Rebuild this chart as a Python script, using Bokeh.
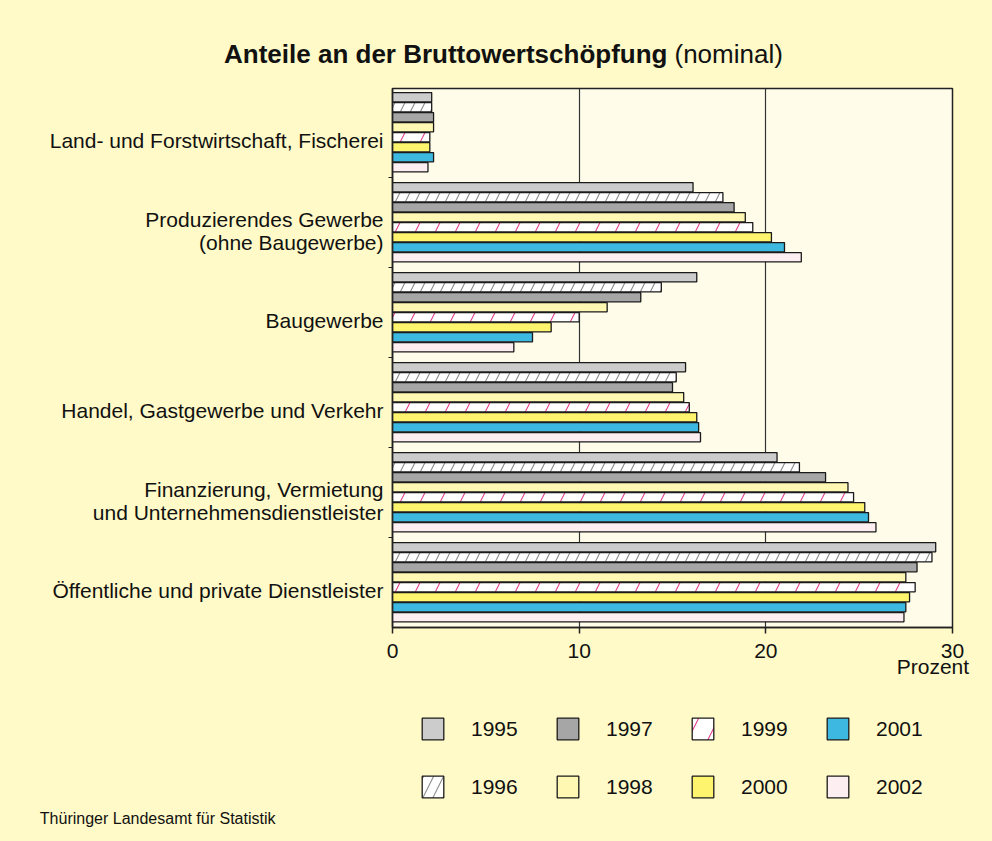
from bokeh.plotting import figure
from bokeh.layouts import column
from bokeh.models import Range1d, FixedTicker, Label, Legend, LegendItem, LinearAxis
from bokeh.embed import file_html
from bokeh.resources import INLINE

# ---------------- data ----------------
categories = [
    "Land- und Forstwirtschaft, Fischerei",
    "Produzierendes Gewerbe\n(ohne Baugewerbe)",
    "Baugewerbe",
    "Handel, Gastgewerbe und Verkehr",
    "Finanzierung, Vermietung\nund Unternehmensdienstleister",
    "Öffentliche und private Dienstleister",
]
years = ["1995", "1996", "1997", "1998", "1999", "2000", "2001", "2002"]

v1995 = [2.1, 16.1, 16.3, 15.7, 20.6, 29.1]
v1996 = [2.1, 17.7, 14.4, 15.2, 21.8, 28.9]
v1997 = [2.2, 18.3, 13.3, 15.0, 23.2, 28.1]
v1998 = [2.2, 18.9, 11.5, 15.6, 24.4, 27.5]
v1999 = [2.0, 19.3, 10.0, 15.9, 24.7, 28.0]
v2000 = [2.0, 20.3, 8.5, 16.3, 25.3, 27.7]
v2001 = [2.2, 21.0, 7.5, 16.4, 25.5, 27.5]
v2002 = [1.9, 21.9, 6.5, 16.5, 25.9, 27.4]
series = [v1995, v1996, v1997, v1998, v1999, v2000, v2001, v2002]

x_ticks = [0, 10, 20, 30]

title_bold = "Anteile an der Bruttowertschöpfung"
title_normal = "(nominal)"
x_unit = "Prozent"
source_text = "Thüringer Landesamt für Statistik"

# ---------------- styles ----------------
FONT = "Liberation Sans"
YELLOW = "#FFFAC8"
PLOT_BG = "#FFFDEA"
INK = "#111111"
fills = ["#CCCCCC", "#FFFFFF", "#A6A6A6", "#FFF8B2", "#FFFFFF", "#FFF46E", "#3DB8E0", "#FDEEF1"]
hatches = [" ", "/", " ", " ", "/", " ", " ", " "]
hatch_colors = ["#888888", "#8C8C8C", "#888888", "#888888", "#E2408C", "#888888", "#888888", "#888888"]
hatch_scales = [20, 20, 20, 20, 40, 20, 20, 20]


def bar_style(k):
    return dict(fill_color=fills[k], line_color="#1A1A1A", line_width=1.3,
                hatch_pattern=hatches[k], hatch_color=hatch_colors[k],
                hatch_scale=hatch_scales[k], hatch_weight=1.1)


def strip_fig(h):
    """Figure used only to carry texts / legend above and below the chart."""
    f = figure(width=992, height=h, x_range=Range1d(0, 1), y_range=Range1d(0, h),
               x_axis_type=None, output_backend="svg",
               toolbar_location=None, min_border=0,
               background_fill_color=YELLOW, border_fill_color=YELLOW,
               outline_line_color=None)
    f.grid.visible = False
    ax = f.yaxis[0]
    ax.axis_line_color = None
    ax.major_tick_line_color = None
    ax.minor_tick_line_color = None
    ax.major_tick_out = 0
    ax.major_tick_in = 0
    ax.major_label_text_font = FONT
    ax.major_label_text_color = INK
    return f


# ---------------- title strip ----------------
title_fig = strip_fig(80)
title_fig.yaxis.ticker = FixedTicker(ticks=[27])
title_fig.yaxis.major_label_overrides = {27: title_bold}
title_fig.yaxis.major_label_text_font_style = "bold"
title_fig.yaxis.major_label_text_font_size = "26px"
title_fig.yaxis.major_label_standoff = -275
title_fig.add_layout(Label(x=282, y=27, x_units="screen", y_units="screen",
                           text=title_normal, text_font=FONT, text_font_size="26px",
                           text_align="left", text_baseline="alphabetic", text_color=INK))

# ---------------- main chart ----------------
n_bars = len(years)
group_step = n_bars + 1
top_pad = 0.37

p = figure(
    width=992, height=620,
    x_range=Range1d(0, 30), y_range=Range1d(53.9, 0),
    output_backend="svg", toolbar_location=None,
    min_border_left=392, min_border_right=40, min_border_top=8, min_border_bottom=73,
    background_fill_color=PLOT_BG, border_fill_color=YELLOW,
    outline_line_color="#222222", outline_line_width=1.5,
)

for k, vals in enumerate(series):
    ys = [g * group_step + k + top_pad + 0.5 for g in range(len(categories))]
    p.hbar(y=ys, left=0, right=vals, height=0.92, **bar_style(k))

xa = p.xaxis[0]
xa.ticker = FixedTicker(ticks=x_ticks)
xa.major_tick_out = 6
xa.major_tick_in = 0
xa.minor_tick_line_color = None
xa.axis_line_color = "#222222"
xa.axis_line_width = 1.5
xa.major_tick_line_color = "#222222"
xa.major_tick_line_width = 1.5
xa.major_label_text_font = FONT
xa.major_label_text_font_size = "21px"
xa.major_label_text_color = INK
xa.major_label_standoff = 10

# unit label "Prozent" below the tick labels, ending at the right edge
unit_pos = 28.95
unit_axis = LinearAxis(
    ticker=FixedTicker(ticks=[unit_pos]), major_label_overrides={unit_pos: x_unit},
    axis_line_color=None, major_tick_line_color=None, minor_tick_line_color=None,
    major_tick_out=0, major_tick_in=0, major_label_standoff=-6,
    major_label_text_font=FONT, major_label_text_font_size="21px",
    major_label_text_color=INK,
)
p.add_layout(unit_axis, "below")

p.xgrid.ticker = FixedTicker(ticks=x_ticks)
p.xgrid.grid_line_color = "#333333"
p.xgrid.grid_line_width = 1.2
p.ygrid.visible = False

label_pos = [round(g * group_step + 5.2, 2) for g in range(len(categories))]
bounds = [round(g * group_step - 0.13, 2) for g in range(1, len(categories))]
p.yaxis.ticker = FixedTicker(ticks=label_pos, minor_ticks=bounds)
p.yaxis.major_label_overrides = {pos: cat for pos, cat in zip(label_pos, categories)}
p.yaxis.major_tick_line_color = None
p.yaxis.major_tick_out = 0
p.yaxis.major_tick_in = 0
p.yaxis.minor_tick_out = 4
p.yaxis.minor_tick_in = 0
p.yaxis.minor_tick_line_color = "#222222"
p.yaxis.axis_line_color = "#222222"
p.yaxis.axis_line_width = 1.5
p.yaxis.major_label_text_font = FONT
p.yaxis.major_label_text_font_size = "21px"
p.yaxis.major_label_text_color = INK
p.yaxis.major_label_text_line_height = 1.0
p.yaxis.major_label_standoff = 5

# ---------------- legend / source strip ----------------
bottom_fig = strip_fig(141)
bottom_fig.yaxis.ticker = FixedTicker(ticks=[23])
bottom_fig.yaxis.major_label_overrides = {23: source_text}
bottom_fig.yaxis.major_label_text_font_size = "16px"
bottom_fig.yaxis.major_label_standoff = 117

items = []
for k, (yr, vals) in enumerate(zip(years, series)):
    # hidden legend proxy carrying the series style
    r = bottom_fig.hbar(y=[0], left=[0], right=[vals[0]], height=1, **bar_style(k))
    r.visible = False
    items.append(LegendItem(label=yr, renderers=[r]))

legend = Legend(
    items=items, location=(27, 41), orientation="vertical", nrows=2,
    glyph_width=27, glyph_height=27, label_standoff=25, label_width=52,
    spacing=31, padding=0, margin=0, click_policy="none",
    background_fill_alpha=0, border_line_alpha=0,
    label_text_font=FONT, label_text_font_size="21px", label_text_color=INK,
)
bottom_fig.add_layout(legend)

layout = column(title_fig, p, bottom_fig, spacing=0)

page_tmpl = """
{% block preamble %}
<style>html, body { background: #FFFAC8; }</style>
{% endblock %}
"""
try:
    html = file_html(layout, INLINE, template=page_tmpl)
except Exception:
    html = file_html(layout, INLINE)
open("out.html", "w").write(html)
